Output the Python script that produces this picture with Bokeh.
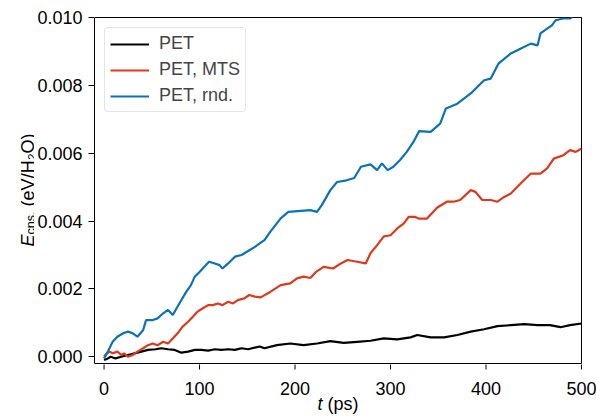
import math
from bokeh.plotting import figure
from bokeh.layouts import column, row
from bokeh.models import (Range1d, FixedTicker, NumeralTickFormatter,
                          Legend, LegendItem)
from bokeh.core.properties import value
from bokeh.embed import file_html
from bokeh.resources import INLINE

# ---- data (t in ps, E in eV/H2O) ----
t_pet = [0, 4, 7, 12, 18, 25, 32, 39, 46, 54, 60, 67, 74, 81, 88, 95, 102, 109,
         116, 123, 130, 137, 144, 151, 158, 163, 168, 181, 195, 209, 223, 237,
         251, 265, 279, 293, 307, 321, 328, 342, 356, 370, 384, 398, 412, 426,
         440, 454, 467, 478, 488, 500]
e_pet = [-0.0001, -0.00005, 0.0, -0.00005, 0.0, 0.00005, 0.0001, 0.00015, 0.0002,
         0.00022, 0.00025, 0.00022, 0.0002, 0.00012, 0.00015, 0.0002, 0.0002,
         0.00018, 0.00022, 0.0002, 0.00022, 0.0002, 0.00025, 0.00022, 0.00027,
         0.0003, 0.00025, 0.00034, 0.00039, 0.00034, 0.00039, 0.00046, 0.00041,
         0.00044, 0.00047, 0.00054, 0.00051, 0.00057, 0.00064, 0.00057, 0.00057,
         0.00064, 0.00074, 0.00081, 0.0009, 0.00093, 0.00096, 0.00093, 0.00093,
         0.00087, 0.00093, 0.00098]

t_mts = [0, 3, 6, 9, 14, 18, 21, 25, 30, 35, 41, 46, 51, 56, 62, 67, 72, 77, 82,
         88, 93, 98, 103, 109, 114, 119, 124, 130, 135, 140, 147, 152, 158, 164,
         174, 185, 195, 202, 209, 216, 222, 230, 240, 248, 255, 265, 274, 279,
         286, 293, 300, 307, 314, 319, 326, 330, 338, 349, 359, 366, 373, 384,
         389, 396, 405, 412, 419, 426, 436, 447, 457, 464, 471, 481, 488, 494, 500]
e_mts = [0.0, 0.0001, 0.00015, 0.0001, 0.00015, 0.00005, 0.0001, 0.0, 0.00005,
         0.00015, 0.00025, 0.00034, 0.00039, 0.00034, 0.00044, 0.00039, 0.00054,
         0.00069, 0.00088, 0.00103, 0.00118, 0.00133, 0.00142, 0.00152, 0.00152,
         0.00157, 0.00152, 0.00162, 0.00157, 0.00167, 0.00172, 0.00182, 0.00177,
         0.00175, 0.00191, 0.00211, 0.00216, 0.00231, 0.00236, 0.00232, 0.0025,
         0.00265, 0.0026, 0.00275, 0.00285, 0.0028, 0.00275, 0.00305, 0.00329,
         0.00355, 0.00358, 0.00378, 0.00393, 0.00412, 0.00412, 0.00407, 0.00407,
         0.0044, 0.00457, 0.00457, 0.00462, 0.00491, 0.00486, 0.00462, 0.00462,
         0.00457, 0.00471, 0.00481, 0.0051, 0.0054, 0.0054, 0.00555, 0.00584,
         0.00594, 0.00609, 0.00604, 0.00614]

t_rnd = [0, 4, 9, 14, 20, 25, 30, 35, 41, 44, 51, 56, 62, 67, 72, 76, 81, 86, 91,
         95, 100, 105, 110, 116, 121, 124, 130, 137, 144, 150, 158, 163, 168, 174,
         185, 193, 206, 216, 223, 228, 237, 244, 254, 262, 269, 279, 286, 291,
         297, 303, 310, 317, 324, 330, 342, 352, 358, 370, 384, 398, 405, 413,
         426, 436, 447, 454, 457, 464, 469, 473, 481, 488, 492, 500]
e_rnd = [-0.00005, 0.00015, 0.00044, 0.00059, 0.00069, 0.00074, 0.00069, 0.00059,
         0.00079, 0.00108, 0.00108, 0.00113, 0.00128, 0.00138, 0.00123, 0.00143,
         0.00167, 0.00191, 0.00211, 0.00236, 0.0025, 0.00265, 0.0028, 0.00275,
         0.0027, 0.0026, 0.00275, 0.00295, 0.003, 0.0031, 0.00324, 0.00334,
         0.00344, 0.00368, 0.00408, 0.00427, 0.0043, 0.00432, 0.00427, 0.00447,
         0.00491, 0.00515, 0.0052, 0.00527, 0.0056, 0.00567, 0.0055, 0.0057,
         0.0055, 0.0056, 0.0058, 0.00604, 0.00633, 0.00665, 0.00663, 0.00687,
         0.00732, 0.00746, 0.00776, 0.00815, 0.0082, 0.00864, 0.00894, 0.00908,
         0.00923, 0.00918, 0.00953, 0.00967, 0.00977, 0.00992, 0.00997, 0.00997,
         0.01006, 0.0102]

series_labels = ["PET", "PET, MTS", "PET, rnd."]
series_colors = ["#000000", "#e1381b", "#0a72ba"]
x_ticks = [0, 100, 200, 300, 400, 500]
x_tick_labels = ["0", "100", "200", "300", "400", "500"]
y_ticks = [0.0, 0.002, 0.004, 0.006, 0.008, 0.010]
X_MIN, X_MAX = -10, 500
Y_MIN, Y_MAX = -0.0002, 0.010

FONT = "Liberation Sans"
FS = 18
SUB = 12.6
NB = "\u00a0"

# ---- page geometry (page is 596 x 416, body margin 0) ----
PAGE_W, PAGE_H = 596, 416
FR_L, FR_R, FR_T, FR_B = 94, 581, 17, 363   # frame edges in page pixels
TICK = 6
YLAB_W = 34                      # rotated y title
YAX_W = FR_L - YLAB_W            # native y axis (ticks + labels)
MAIN_W = PAGE_W - FR_L
MAIN_H = FR_B + 1
STRIP_H = PAGE_H - MAIN_H


def base_fig(**kw):
    f = figure(output_backend="svg", toolbar_location=None, **kw)
    f.xgrid.visible = False
    f.ygrid.visible = False
    f.background_fill_color = "white"
    f.border_fill_color = "white"
    return f


# ---- main plot frame with the three series ----
p = base_fig(width=MAIN_W, height=MAIN_H,
             x_range=Range1d(X_MIN, X_MAX), y_range=Range1d(Y_MIN, Y_MAX),
             x_axis_location=None, y_axis_location=None,
             min_border_left=0, min_border_right=PAGE_W - FR_R,
             min_border_top=FR_T, min_border_bottom=MAIN_H - FR_B)
p.outline_line_color = "black"
p.outline_line_width = 1

renderers = []
for (tx, ey), col in zip([(t_pet, e_pet), (t_mts, e_mts), (t_rnd, e_rnd)], series_colors):
    renderers.append(p.line(tx, ey, line_color=col, line_width=2.2))

legend = Legend(items=[LegendItem(label=l, renderers=[r]) for l, r in zip(series_labels, renderers)],
                location="top_left", margin=10, padding=5, spacing=5,
                glyph_width=39, glyph_height=20, label_height=20, label_standoff=10,
                label_text_font=FONT, label_text_font_size=f"{FS}px",
                border_line_color="#cccccc", border_line_width=1,
                background_fill_color="white", background_fill_alpha=0.8)
if "border_radius" in Legend.properties():
    legend.border_radius = 4
p.add_layout(legend)

# ---- native y axis on a 1px-wide frame just left of the plot ----
yax = base_fig(width=YAX_W, height=PAGE_H,
               x_range=Range1d(0, 1), y_range=Range1d(Y_MIN, Y_MAX),
               x_axis_location=None,
               min_border_left=YAX_W - 1, min_border_right=0,
               min_border_top=FR_T, min_border_bottom=PAGE_H - FR_B)
yax.outline_line_color = None
yax.yaxis.ticker = FixedTicker(ticks=y_ticks)
yax.yaxis.formatter = NumeralTickFormatter(format="0.000")
ax = yax.yaxis[0]
ax.major_tick_out = TICK
ax.major_tick_in = 0
ax.minor_tick_out = 0
ax.minor_tick_in = 0
ax.axis_line_color = "black"
ax.major_tick_line_color = "black"
ax.major_label_text_font = FONT
ax.major_label_text_font_size = f"{FS}px"
ax.major_label_text_color = "black"
ax.major_label_standoff = 6

# ---- helper figures for texts (Arial metrics) ----
W = {"E": 667, "c": 500, "n": 556, "s": 500, ".": 278, NB: 278, "(": 333,
     "e": 556, "V": 667, "/": 278, "H": 722, "\u2082": 556, "O": 778,
     ")": 333, "t": 278, "p": 556}


def tw(s, size):
    return sum(W[ch] for ch in s) * size / 1000.0


# y-axis title, rotated, with italic E and subscript; its frame matches the plot frame
ylab = base_fig(width=YLAB_W, height=PAGE_H,
                x_range=Range1d(0, YLAB_W), y_range=Range1d(0, FR_B - FR_T),
                x_axis_location=None, y_axis_location=None,
                min_border_left=0, min_border_right=0,
                min_border_top=FR_T, min_border_bottom=PAGE_H - FR_B)
ylab.outline_line_color = None
pieces = [("E", FS, "italic", 0), ("cns.", SUB, "normal", 3),
          (NB + "(eV/H\u2082O)", FS, "normal", 0)]
pos = FR_B - 246.0
for txt, size, style, shift in pieces:
    ylab.text(x=[27 + shift], y=[pos], text=[txt], angle=math.pi / 2,
              text_font=value(FONT), text_font_size=value(f"{size}px"),
              text_font_style=value(style), text_align="left",
              text_baseline="alphabetic", text_color="black")
    pos += tw(txt, size)

# strip under the plot: x ticks and tick labels (same data scale) and x-axis title
ppu = (FR_R - FR_L) / (X_MAX - X_MIN)
strip_xr = Range1d(X_MIN, X_MAX + (PAGE_W - FR_R) / ppu)
xstrip = base_fig(width=MAIN_W, height=STRIP_H, x_range=strip_xr,
                  y_range=Range1d(0, STRIP_H), min_border=0,
                  x_axis_location=None, y_axis_location=None)
xstrip.outline_line_color = None
tick_top = STRIP_H + (MAIN_H - FR_B)
xstrip.segment(x0=x_ticks, y0=[tick_top] * len(x_ticks),
               x1=x_ticks, y1=[tick_top - TICK] * len(x_ticks),
               line_color="black", line_width=1)
xstrip.text(x=x_ticks, y=[STRIP_H - (388 - MAIN_H)] * len(x_ticks), text=x_tick_labels,
            text_font=value(FONT), text_font_size=value(f"{FS}px"),
            text_align="center", text_baseline="alphabetic", text_color="black")

t_start = (FR_R - FR_L) / 2 - tw("t" + NB + "(ps)", FS) / 2
for txt, style in [("t", "italic"), (NB + "(ps)", "normal")]:
    xstrip.text(x=[X_MIN + t_start / ppu], y=[STRIP_H - (403 - MAIN_H)], text=[txt],
                text_font=value(FONT), text_font_size=value(f"{FS}px"),
                text_font_style=value(style), text_align="left",
                text_baseline="alphabetic", text_color="black")
    t_start += tw(txt, FS)

# the strip is wrapped in its own row so that its borders are not aligned to the plot's
layout = row(ylab, yax, column(p, row(xstrip, spacing=0), spacing=0), spacing=0)
open("out.html", "w").write(file_html(layout, INLINE))
